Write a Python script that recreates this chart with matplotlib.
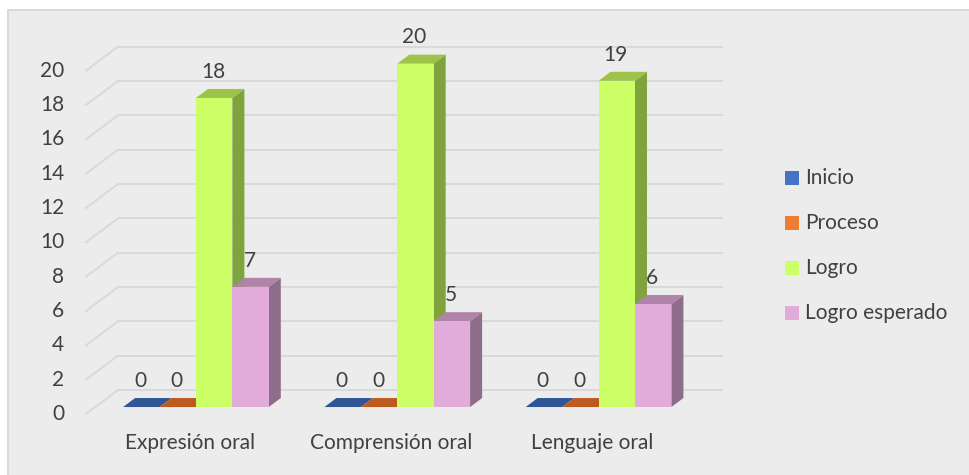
import matplotlib
matplotlib.use("Agg")
import matplotlib.pyplot as plt
from matplotlib.patches import Polygon, Rectangle

plt.rcParams['font.family'] = ['Lato', 'DejaVu Sans']

# datos
categorias = ['Expresión oral', 'Comprensión oral', 'Lenguaje oral']
series = ['Inicio', 'Proceso', 'Logro', 'Logro esperado']
inicio = [0, 0, 0]
proceso = [0, 0, 0]
logro = [18, 20, 19]
logro_esperado = [7, 5, 6]
valores = [inicio, proceso, logro, logro_esperado]
ticks_y = [0, 2, 4, 6, 8, 10, 12, 14, 16, 18, 20]

# colores: frente, arriba, lado
col_frente = ['#4472C4', '#ED7D31', '#CCFF66', '#E2ACDA']
col_arriba = ['#2F5597', '#BD5B1E', '#9DC34B', '#B083A8']
col_lado = ['#294B85', '#9E4D1A', '#7FA33D', '#8F6D8A']
txt = '#404040'
grid = '#D9D9D9'
fs = 15

# profundidad (pseudo 3D)
DX, DY = 0.159, 1.398          # desplazamiento total de fondo
d0, d1 = 0.29, 0.665           # profundidad de las barras
ancho = 0.181

fig = plt.figure(figsize=(9.7, 4.75), dpi=100)
ax = fig.add_axes([0, 0, 1, 1])
ax.set_xlim(-0.9272, 3.8914)
ax.set_ylim(-3.5527, 24.112)
ax.axis('off')
ax.add_patch(Rectangle((8 / 970, -0.01), 1.02, 1 - 10 / 475 + 0.01,
                       transform=fig.transFigure, facecolor='#ECECEC',
                       edgecolor='#D4D4D4', lw=1.2, zorder=0))

# rejilla: pared del fondo + diagonales
for t in ticks_y:
    ax.plot([-0.5 + DX, 2.5 + DX], [t + DY, t + DY], color=grid, lw=1.4, zorder=1)
    ax.plot([-0.5, -0.5 + DX], [t, t + DY], color=grid, lw=1.4, zorder=1)
    ax.text(-0.609, t, str(t), ha='right', va='center', fontsize=fs, color=txt)

# barras
for i, cat in enumerate(categorias):
    for j, s in enumerate(series):
        v = valores[j][i]
        x0 = i - 2 * ancho + j * ancho
        x1 = x0 + ancho
        fx0, fx1 = x0 + d0 * DX, x1 + d0 * DX
        fy0, fy1 = d0 * DY, v + d0 * DY
        bx = (d1 - d0) * DX
        by = (d1 - d0) * DY
        z = 3 + j
        if v > 0:
            ax.add_patch(Polygon([(fx1, fy0), (fx1 + bx, fy0 + by),
                                  (fx1 + bx, fy1 + by), (fx1, fy1)],
                                 closed=True, facecolor=col_lado[j], lw=0, zorder=z))
        ax.add_patch(Polygon([(fx0, fy1), (fx1, fy1), (fx1 + bx, fy1 + by),
                              (fx0 + bx, fy1 + by)],
                             closed=True, facecolor=col_arriba[j], lw=0, zorder=z))
        if v > 0:
            ax.add_patch(Rectangle((fx0, fy0), ancho, v, facecolor=col_frente[j],
                                   lw=0, zorder=z))
        ax.text((fx0 + fx1) / 2 - 0.005, fy1 + by + 1.0, str(v), ha='center',
                va='center', fontsize=fs, color=txt, zorder=10)
    ax.text(i + 0.017, -1.69, cat, ha='center', va='center', fontsize=fs, color=txt)

# leyenda
for j, s in enumerate(series):
    yl = (414 - (178 + 45 * j)) / 17.17
    ax.add_patch(Rectangle(((785 - 186.65) / 201.3, yl - 0.41), 14 / 201.3, 0.82,
                           facecolor=col_frente[j], lw=0))
    ax.text((805 - 186.65) / 201.3, yl, s, ha='left', va='center', fontsize=fs,
            color=txt)

fig.savefig('out.png', dpi=100, facecolor='white')
